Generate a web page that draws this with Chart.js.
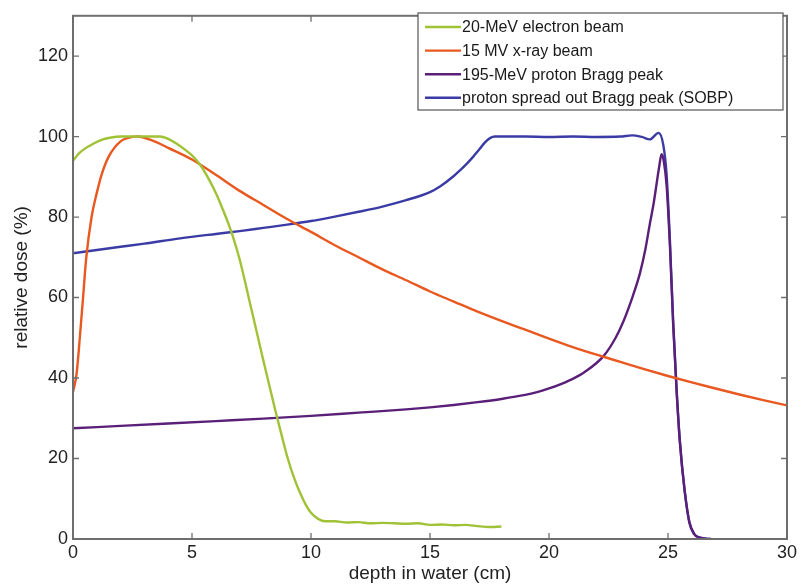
<!DOCTYPE html>
<html>
<head>
<meta charset="utf-8">
<script src="https://cdn.jsdelivr.net/npm/chart.js@4.4.1/dist/chart.umd.min.js"></script>
<style>
  html, body { margin: 0; padding: 0; background: #fff; }
  #wrap { width: 800px; height: 585px; }
</style>
</head>
<body>
<div id="wrap"><canvas id="doseChart" width="800" height="585"></canvas></div>
<script>
// Depth-dose curves in water, depth in cm, dose in % of maximum
const electronDepth = [0, 0.25, 0.5, 0.85, 1.2, 1.55, 2, 2.8, 3.66, 4, 4.36, 4.8, 5, 5.34, 5.7, 6.04, 6.3, 6.5, 6.7, 7, 7.5, 8, 8.5, 8.8, 9, 9.3, 9.54, 9.8, 10, 10.3, 10.6, 11, 11.5, 12, 12.5, 13, 13.5, 14, 14.5, 15, 15.5, 16, 16.5, 17, 17.5, 18];
const electronDose  = [94, 95.8, 97, 98.2, 99.2, 99.7, 100, 100, 100, 99.4, 98.2, 96.3, 95.3, 93, 89.5, 85.5, 81.8, 78.8, 75.5, 69.5, 57, 44.3, 32, 25, 20.5, 15, 11.5, 8.3, 6.5, 5, 4.4, 4.4, 4.1, 4.2, 3.9, 4.0, 3.9, 3.8, 3.9, 3.5, 3.6, 3.4, 3.5, 3.2, 3.0, 3.1];

const xrayDepth = [0, 0.15, 0.3, 0.41, 0.55, 0.78, 1, 1.2, 1.5, 2, 2.5, 2.7, 3, 3.5, 4, 5, 6, 7, 8, 9, 10, 11, 12, 13, 14, 15, 16, 17, 18, 19, 20, 21, 22, 23, 24, 25, 26, 27, 28, 29, 30];
const xrayDose  = [36.5, 41, 51, 59, 69.5, 80, 86, 90.5, 95, 98.8, 99.9, 100, 99.7, 98.6, 97.2, 94.3, 90.5, 86.5, 83, 79.5, 76.3, 73, 70, 67, 64.3, 61.5, 59, 56.5, 54.2, 52, 49.8, 47.7, 45.8, 44, 42.2, 40.5, 38.9, 37.4, 35.9, 34.5, 33.2];

const braggDepth = [0, 2, 4, 6, 8, 10, 12, 14, 15, 16, 17, 18, 19, 19.5, 20, 20.5, 21, 21.5, 22.3, 22.8, 23.12, 23.5, 23.82, 24.05, 24.24, 24.4, 24.52, 24.63, 24.73, 24.82, 24.94, 25.08, 25.22, 25.36, 25.5, 25.7, 25.9, 26.1, 26.3, 26.6, 26.8];
const braggDose  = [27.5, 28.1, 28.7, 29.3, 29.9, 30.6, 31.4, 32.2, 32.7, 33.3, 34, 34.8, 35.8, 36.5, 37.4, 38.5, 39.8, 41.5, 45.5, 50, 54, 60, 66, 72, 78.4, 83.5, 88.2, 92.5, 95.6, 94, 88, 73, 53, 37, 24, 12, 4.2, 1.3, 0.4, 0.1, 0];

const sobpDepth = [0, 1, 2, 3, 4.5, 6, 7, 8, 9, 10, 11, 12, 13, 14, 15, 15.42, 16, 16.26, 16.54, 16.82, 17.1, 17.3, 17.52, 17.73, 19, 20, 21, 22, 23, 23.5, 23.9, 24.24, 24.6, 24.8, 24.94, 25.08, 25.22, 25.36, 25.5, 25.7, 25.9, 26.1, 26.3, 26.6, 26.8];
const sobpDose  = [71, 71.8, 72.6, 73.4, 74.7, 75.8, 76.5, 77.3, 78.1, 79, 80.1, 81.3, 82.6, 84.2, 86.2, 87.6, 90.2, 91.6, 93.2, 95, 97, 98.5, 99.6, 100, 100, 99.9, 100, 99.9, 100, 100.3, 99.9, 99.3, 100.9, 98, 90.7, 74.3, 53.8, 37.4, 24.3, 12, 4, 1.2, 0.4, 0.1, 0];

const xTicks = [0, 5, 10, 15, 20, 25, 30];
const yTicks = [0, 20, 40, 60, 80, 100, 120];

const toPoints = (xs, ys) => xs.map((x, i) => ({ x, y: ys[i] }));

const FONT = '"Liberation Sans", Arial, Helvetica, sans-serif';
const frameColor = '#6e6e6e';

const series = (label, xs, ys, color) => ({
  label,
  data: toPoints(xs, ys),
  borderColor: color,
  backgroundColor: color,
  borderWidth: 2.4,
  pointRadius: 0,
  cubicInterpolationMode: 'monotone',
  fill: false
});

// box around the plot with inward ticks on all four sides, plus the legend
const framePlugin = {
  id: 'frame',
  afterDraw(chart) {
    const { ctx, chartArea: a, scales } = chart;
    ctx.save();
    ctx.strokeStyle = frameColor;
    ctx.lineWidth = 2;
    ctx.strokeRect(a.left, a.top, a.right - a.left, a.bottom - a.top);
    ctx.lineWidth = 1.3;
    ctx.beginPath();
    xTicks.forEach(v => {
      const px = scales.x.getPixelForValue(v);
      ctx.moveTo(px, a.bottom); ctx.lineTo(px, a.bottom - 6);
      ctx.moveTo(px, a.top); ctx.lineTo(px, a.top + 6);
    });
    yTicks.forEach(v => {
      const py = scales.y.getPixelForValue(v);
      ctx.moveTo(a.left, py); ctx.lineTo(a.left + 6, py);
      ctx.moveTo(a.right, py); ctx.lineTo(a.right - 6, py);
    });
    ctx.stroke();

    // legend
    const lx = 418, ly = 13, lw = 365, lh = 97;
    ctx.fillStyle = '#fff';
    ctx.fillRect(lx, ly, lw, lh);
    ctx.strokeStyle = '#555';
    ctx.lineWidth = 1.2;
    ctx.strokeRect(lx, ly, lw, lh);
    ctx.font = '16px ' + FONT;
    ctx.textBaseline = 'middle';
    chart.data.datasets.forEach((ds, i) => {
      const y = ly + 14 + i * 23.6;
      ctx.strokeStyle = ds.borderColor;
      ctx.lineWidth = 2.4;
      ctx.beginPath();
      ctx.moveTo(lx + 7, y);
      ctx.lineTo(lx + 43, y);
      ctx.stroke();
      ctx.fillStyle = '#1a1a1a';
      ctx.fillText(ds.label, lx + 44, y + 1);
    });
    ctx.restore();
  }
};

new Chart(document.getElementById('doseChart'), {
  type: 'line',
  data: {
    datasets: [
      series('20-MeV electron beam', electronDepth, electronDose, '#a0c236'),
      series('15 MV x-ray beam', xrayDepth, xrayDose, '#e8581f'),
      series('195-MeV proton Bragg peak', braggDepth, braggDose, '#5a1f78'),
      series('proton spread out Bragg peak (SOBP)', sobpDepth, sobpDose, '#3b3ba6')
    ]
  },
  options: {
    responsive: false,
    animation: false,
    layout: { padding: { top: 10, right: 13, left: 0, bottom: 0 } },
    plugins: { legend: { display: false }, tooltip: { enabled: false } },
    scales: {
      x: {
        type: 'linear',
        min: 0,
        max: 30,
        grid: { display: false, drawTicks: false },
        border: { display: false },
        afterBuildTicks: s => { s.ticks = xTicks.map(value => ({ value })); },
        afterFit: s => { s.height = 46; },
        ticks: { color: '#222', padding: 3, font: { family: FONT, size: 18 } },
        title: {
          display: true,
          text: 'depth in water (cm)',
          color: '#222',
          padding: { top: 0, bottom: 0 },
          font: { family: FONT, size: 19 }
        }
      },
      y: {
        min: 0,
        max: 130,
        grid: { display: false, drawTicks: false },
        border: { display: false },
        afterBuildTicks: s => { s.ticks = yTicks.map(value => ({ value })); },
        afterFit: s => { s.width = 73; },
        ticks: { color: '#222', padding: 5, font: { family: FONT, size: 18 } },
        title: {
          display: true,
          text: 'relative dose (%)',
          color: '#222',
          padding: { top: 10, bottom: 0 },
          font: { family: FONT, size: 19 }
        }
      }
    }
  },
  plugins: [framePlugin]
});
</script>
</body>
</html>
